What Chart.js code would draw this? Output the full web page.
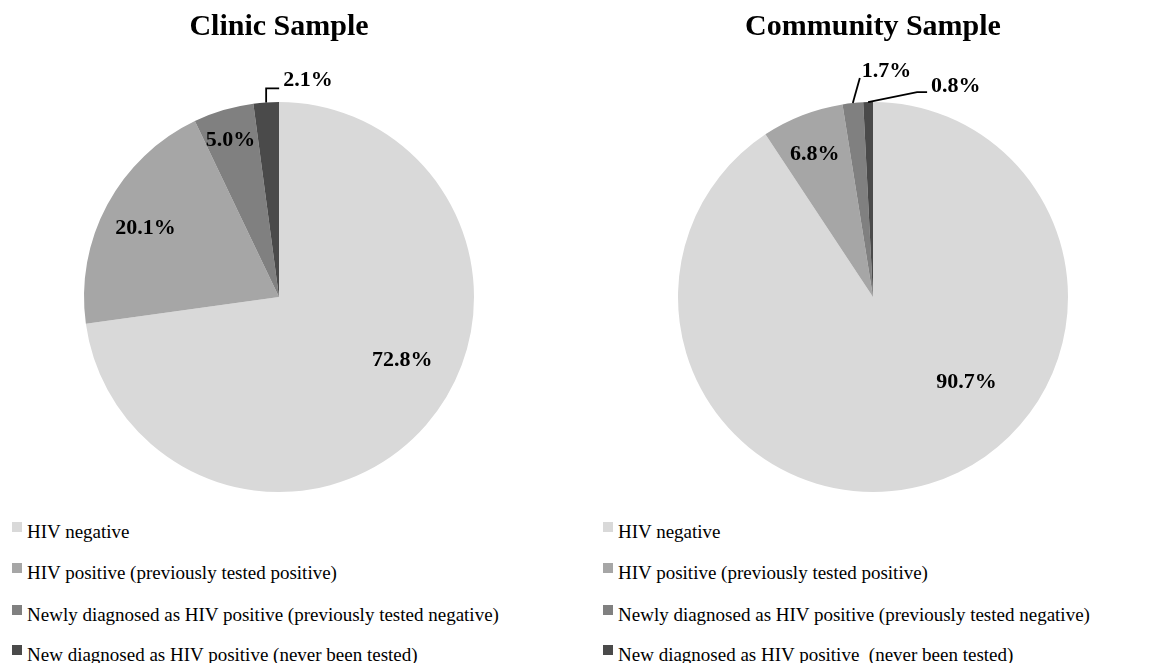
<!DOCTYPE html>
<html>
<head>
<meta charset="utf-8">
<script src="https://cdn.jsdelivr.net/npm/chart.js@4.4.1/dist/chart.umd.min.js"></script>
<style>
  html, body { margin: 0; padding: 0; background: #fff; }
  #wrap { position: relative; width: 1150px; height: 663px; overflow: hidden; background: #fff; }
  canvas { position: absolute; top: 0; }
  .leg { position: absolute; font-family: "Liberation Serif", "Times New Roman", serif; font-size: 19px; line-height: 19px; color: #000; white-space: pre; }
  .box { position: absolute; width: 10px; height: 10px; }
</style>
</head>
<body>
<div id="wrap">
  <canvas id="clinic" width="575" height="500" style="left:0px"></canvas>
  <canvas id="community" width="575" height="500" style="left:575px"></canvas>
</div>
<script>
// ---- data ----
const clinicTitle = 'Clinic Sample';
const communityTitle = 'Community Sample';
const clinicCategories = [
  'HIV negative',
  'HIV positive (previously tested positive)',
  'Newly diagnosed as HIV positive (previously tested negative)',
  'New diagnosed as HIV positive (never been tested)'
];
const communityCategories = [
  'HIV negative',
  'HIV positive (previously tested positive)',
  'Newly diagnosed as HIV positive (previously tested negative)',
  'New diagnosed as HIV positive  (never been tested)'
];
const clinicValues = [72.8, 20.1, 5.0, 2.1];
const communityValues = [90.7, 6.8, 1.7, 0.8];
const sliceColors = ['#d9d9d9', '#a6a6a6', '#808080', '#4a4a4a'];

// ---- label placement (styling, not data) ----
const clinicPlace = [
  { type: 'in', da: -14, r: 0.71 },
  { type: 'in', da: -1, r: 0.77 },
  { type: 'in', da: -0.7, r: 0.84 },
  { type: 'out', line: [[0, -14], [13, -14]], text: [17, -22] }
];
const communityPlace = [
  { type: 'in', da: -30.8, r: 0.65 },
  { type: 'in', da: -1, r: 0.79 },
  { type: 'out', line: [[7, -25]], text: [9, -32] },
  { type: 'out', line: [[49, -10], [59, -10]], text: [63, -16] }
];

const sliceLabels = {
  id: 'sliceLabels',
  afterDatasetsDraw(chart, args, opts) {
    const ctx = chart.ctx;
    const meta = chart.getDatasetMeta(0);
    const vals = chart.data.datasets[0].data;
    ctx.save();
    ctx.font = 'bold 22px "Liberation Serif", "Times New Roman", serif';
    ctx.fillStyle = '#000';
    ctx.strokeStyle = '#000';
    ctx.textBaseline = 'middle';
    meta.data.forEach((arc, i) => {
      const p = opts.place[i];
      const g = arc.getProps(['x', 'y', 'startAngle', 'endAngle', 'outerRadius'], true);
      const mid = (g.startAngle + g.endAngle) / 2;
      const text = vals[i].toFixed(1) + '%';
      if (p.type === 'in') {
        const a = mid + p.da * Math.PI / 180;
        const r = g.outerRadius * p.r;
        ctx.textAlign = 'center';
        ctx.fillText(text, g.x + Math.cos(a) * r, g.y + Math.sin(a) * r);
      } else {
        const ax = g.x + Math.cos(mid) * g.outerRadius;
        const ay = g.y + Math.sin(mid) * g.outerRadius;
        ctx.beginPath();
        ctx.moveTo(ax, ay);
        p.line.forEach(([dx, dy]) => ctx.lineTo(ax + dx, ay + dy));
        ctx.lineWidth = 1.8;
        ctx.stroke();
        ctx.textAlign = 'left';
        ctx.fillText(text, ax + p.text[0], ay + p.text[1]);
      }
    });
    ctx.restore();
  }
};

function makePie(id, title, cats, vals, place, padL, padR) {
  return new Chart(document.getElementById(id), {
    type: 'pie',
    data: {
      labels: cats,
      datasets: [{
        data: vals,
        backgroundColor: sliceColors,
        borderWidth: 0,
        hoverOffset: 0
      }]
    },
    options: {
      responsive: false,
      animation: false,
      events: [],
      layout: { padding: { left: padL, right: padR, top: 0, bottom: 8 } },
      plugins: {
        legend: { display: false },
        tooltip: { enabled: false },
        title: {
          display: true,
          text: title,
          color: '#000',
          font: { family: '"Liberation Serif", "Times New Roman", serif', size: 30, weight: 'bold', lineHeight: 1.2 },
          padding: { top: 9, bottom: 57 }
        },
        sliceLabels: { place: place }
      }
    },
    plugins: [sliceLabels]
  });
}

makePie('clinic', clinicTitle, clinicCategories, clinicValues, clinicPlace, 84, 101);
makePie('community', communityTitle, communityCategories, communityValues, communityPlace, 103, 82);

// ---- legends (HTML text built from the category arrays) ----
function buildLegend(cats, boxX, textX) {
  const wrap = document.getElementById('wrap');
  const baselines = [538, 579, 621, 661];
  cats.forEach((c, i) => {
    const b = document.createElement('div');
    b.className = 'box';
    b.style.left = boxX + 'px';
    b.style.top = (baselines[i] - 16) + 'px';
    b.style.background = sliceColors[i];
    wrap.appendChild(b);
    const t = document.createElement('div');
    t.className = 'leg';
    t.style.left = textX + 'px';
    t.style.top = (baselines[i] - 16) + 'px';
    t.textContent = c;
    wrap.appendChild(t);
  });
}
buildLegend(clinicCategories, 12, 27);
buildLegend(communityCategories, 603, 618);
</script>
</body>
</html>
